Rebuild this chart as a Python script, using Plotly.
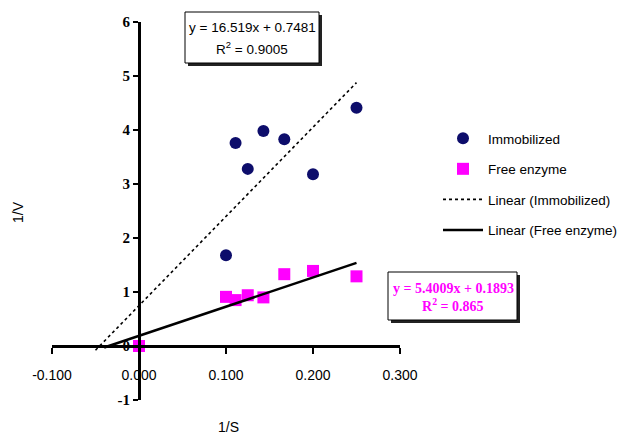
import plotly.graph_objects as go

# ---------------- data ----------------
inv_s_immobilized = [0.100, 0.111, 0.125, 0.143, 0.167, 0.200, 0.250]
inv_v_immobilized = [1.68, 3.76, 3.28, 3.98, 3.83, 3.18, 4.41]

inv_s_free = [0.000, 0.100, 0.111, 0.125, 0.143, 0.167, 0.200, 0.250]
inv_v_free = [0.00, 0.91, 0.85, 0.94, 0.90, 1.33, 1.39, 1.29]

immobilized_fit = [16.519, 0.7481]   # slope, intercept
immobilized_r2 = 0.9005
free_fit = [5.4009, 0.1893]
free_r2 = 0.865

immobilized_trend_x = [-0.05, 0.25]
free_trend_x = [-0.04, 0.25]

x_tick_vals = [-0.1, 0.0, 0.1, 0.2, 0.3]
x_tick_text = ["-0.100", "0.000", "0.100", "0.200", "0.300"]
y_tick_vals = [-1, 0, 1, 2, 3, 4, 5, 6]
y_tick_text = ["-1", "0", "1", "2", "3", "4", "5", "6"]

series_names = ["Immobilized", "Free enzyme",
                "Linear (Immobilized)", "Linear (Free enzyme)"]

# ---------------- layout helpers ----------------
W, H = 621, 436
ML, MR, MT, MB = 52, 221, 22, 36
PW, PH = W - ML - MR, H - MT - MB
X_RANGE = [-0.1, 0.3]
Y_RANGE = [-1, 6]


def px(xp):
    return (xp - ML) / PW


def py(yp):
    return (H - MB - yp) / PH


SANS = "Liberation Sans, Arial, sans-serif"
SERIF = "Liberation Serif, Times New Roman, serif"


def line_y(fit, xs):
    return [fit[0] * x + fit[1] for x in xs]


fig = go.Figure()
fig.add_trace(go.Scatter(
    x=inv_s_immobilized, y=inv_v_immobilized, mode="markers",
    name=series_names[0], legendgroup="a",
    marker=dict(symbol="circle", size=12, color="#0d0d6b")))
fig.add_trace(go.Scatter(
    x=inv_s_free, y=inv_v_free, mode="markers",
    name=series_names[1], legendgroup="b",
    marker=dict(symbol="square", size=12, color="#ff00ff")))
fig.add_trace(go.Scatter(
    x=immobilized_trend_x, y=line_y(immobilized_fit, immobilized_trend_x),
    mode="lines", name=series_names[2], legendgroup="c",
    line=dict(color="black", width=1.6, dash="dot")))
fig.add_trace(go.Scatter(
    x=free_trend_x, y=line_y(free_fit, free_trend_x),
    mode="lines", name=series_names[3], legendgroup="d",
    line=dict(color="black", width=2.5)))

shapes = []
annotations = []


def eq_box(x0, y0, x1, y1):
    shapes.append(dict(type="rect", xref="paper", yref="paper",
                       x0=px(x0 + 3), x1=px(x1 + 3), y0=py(y1 + 3), y1=py(y0 + 3),
                       fillcolor="#222", line=dict(width=0), layer="above"))
    shapes.append(dict(type="rect", xref="paper", yref="paper",
                       x0=px(x0), x1=px(x1), y0=py(y1), y1=py(y0),
                       fillcolor="white", line=dict(color="black", width=1),
                       layer="above"))


def label(xp, yp, text, font, angle=0):
    annotations.append(dict(
        xref="paper", yref="paper", x=px(xp), y=py(yp), text=text,
        xanchor="center", yanchor="middle", textangle=angle,
        showarrow=False, font=font))


eq_box(185, 12, 319, 63)
eq_box(388, 272, 517, 320)

label(252, 27, "y = %.3fx + %.4f" % (immobilized_fit[0], immobilized_fit[1]),
      dict(family=SANS, size=13.5, color="black"))
label(252, 48, "R<sup>2</sup> = %.4f" % immobilized_r2,
      dict(family=SANS, size=13.5, color="black"))
label(453, 288, "<b>y = %.4fx + %.4f</b>" % (free_fit[0], free_fit[1]),
      dict(family=SERIF, size=14, color="#ff00ff"))
label(453, 305, "<b>R<sup>2</sup> = %.3f</b>" % free_r2,
      dict(family=SERIF, size=14, color="#ff00ff"))

# axis titles
label(18, 212, "1/V", dict(family=SANS, size=14, color="black"), angle=-90)
label(228, 427, "1/S", dict(family=SANS, size=14, color="black"))

x_pos = (0 - Y_RANGE[0]) / (Y_RANGE[1] - Y_RANGE[0])
y_pos = (0 - X_RANGE[0]) / (X_RANGE[1] - X_RANGE[0])

fig.update_layout(
    width=W, height=H,
    margin=dict(l=ML, r=MR, t=MT, b=MB, pad=0, autoexpand=False),
    paper_bgcolor="white", plot_bgcolor="white",
    showlegend=True,
    legend=dict(x=px(438), y=py(123), xanchor="left", yanchor="top",
                font=dict(family=SANS, size=13.5, color="black"),
                itemwidth=40, tracegroupgap=10, traceorder="grouped",
                bgcolor="rgba(0,0,0,0)"),
    xaxis=dict(range=X_RANGE, domain=[0, 1], anchor="free", position=x_pos,
               showline=True, linewidth=3, linecolor="black",
               ticks="outside", ticklen=6, tickwidth=2, tickcolor="black",
               tickvals=x_tick_vals, ticktext=x_tick_text,
               ticklabelstandoff=9, showgrid=False, zeroline=False,
               tickfont=dict(family=SANS, size=14, color="black")),
    yaxis=dict(range=Y_RANGE, domain=[0, 1], anchor="free", position=y_pos,
               showline=True, linewidth=3, linecolor="black",
               ticks="outside", ticklen=5, tickwidth=2, tickcolor="black",
               tickvals=y_tick_vals, ticktext=y_tick_text,
               showgrid=False, zeroline=False,
               tickfont=dict(family=SERIF, size=15, color="black", weight="bold")),
    shapes=shapes,
    annotations=annotations,
)

fig.write_html("out.html", config={"displayModeBar": False},
               post_script="document.body.style.margin='0';")
